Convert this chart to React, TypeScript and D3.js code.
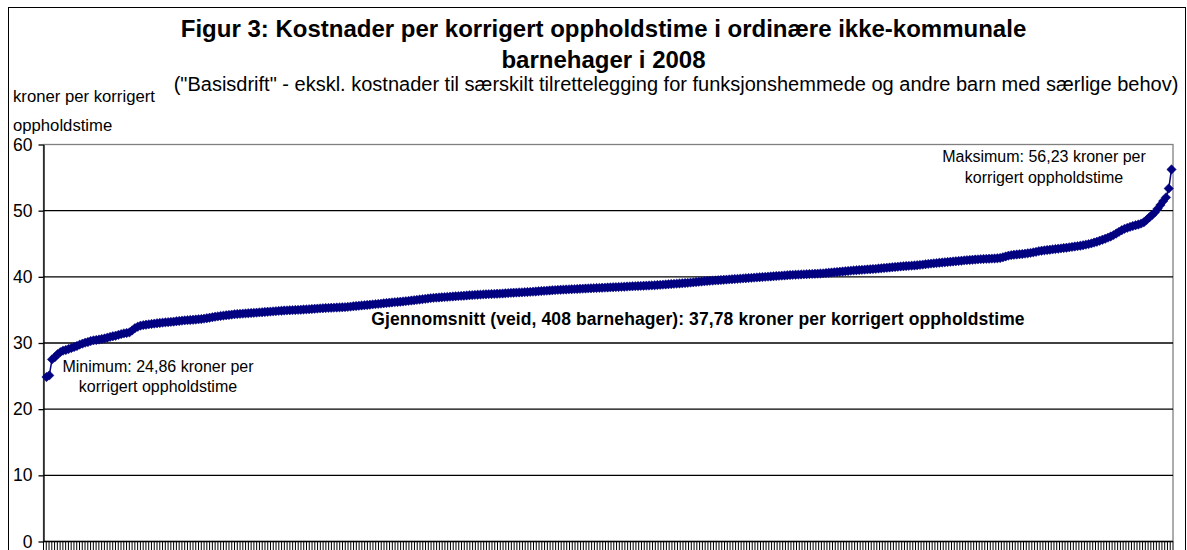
import React, { useRef, useEffect } from 'react';
import * as d3 from 'd3';

// ==================== DATA ====================
// Kostnad per korrigert oppholdstime, 408 barnehager sortert stigende
const costs = [
    24.86, 25.10, 27.52, 27.85, 28.30, 28.62, 28.85, 28.95, 29.10, 29.25,
    29.40, 29.55, 29.75, 29.90, 30.05, 30.15, 30.30, 30.40, 30.45, 30.52,
    30.60, 30.68, 30.80, 30.92, 31.02, 31.10, 31.22, 31.35, 31.45, 31.52,
    31.60, 31.90, 32.25, 32.45, 32.62, 32.70, 32.76, 32.82, 32.88, 32.93,
    32.98, 33.03, 33.08, 33.12, 33.15, 33.19, 33.23, 33.28, 33.33, 33.38,
    33.42, 33.45, 33.48, 33.51, 33.55, 33.58, 33.62, 33.68, 33.75, 33.82,
    33.90, 33.97, 34.03, 34.09, 34.14, 34.19, 34.24, 34.29, 34.34, 34.38,
    34.41, 34.44, 34.47, 34.50, 34.53, 34.56, 34.59, 34.62, 34.65, 34.69,
    34.72, 34.75, 34.78, 34.81, 34.85, 34.88, 34.91, 34.93, 34.95, 34.97,
    34.99, 35.01, 35.03, 35.06, 35.08, 35.11, 35.14, 35.17, 35.20, 35.23,
    35.26, 35.28, 35.30, 35.32, 35.34, 35.36, 35.38, 35.40, 35.42, 35.46,
    35.50, 35.55, 35.59, 35.63, 35.67, 35.71, 35.75, 35.79, 35.83, 35.87,
    35.91, 35.95, 36.00, 36.04, 36.09, 36.13, 36.17, 36.20, 36.24, 36.28,
    36.32, 36.37, 36.42, 36.47, 36.52, 36.57, 36.62, 36.67, 36.72, 36.78,
    36.82, 36.85, 36.88, 36.91, 36.94, 36.97, 37.00, 37.03, 37.06, 37.09,
    37.12, 37.15, 37.18, 37.21, 37.24, 37.27, 37.30, 37.32, 37.34, 37.36,
    37.38, 37.40, 37.42, 37.44, 37.46, 37.48, 37.51, 37.54, 37.57, 37.60,
    37.62, 37.64, 37.66, 37.68, 37.70, 37.73, 37.76, 37.79, 37.82, 37.85,
    37.88, 37.91, 37.94, 37.97, 38.00, 38.03, 38.05, 38.07, 38.09, 38.11,
    38.13, 38.15, 38.17, 38.19, 38.21, 38.23, 38.25, 38.27, 38.29, 38.31,
    38.33, 38.35, 38.37, 38.39, 38.41, 38.43, 38.45, 38.47, 38.49, 38.51,
    38.53, 38.55, 38.57, 38.59, 38.61, 38.63, 38.65, 38.67, 38.69, 38.71,
    38.73, 38.76, 38.79, 38.82, 38.85, 38.88, 38.91, 38.94, 38.97, 39.00,
    39.03, 39.06, 39.09, 39.13, 39.17, 39.21, 39.25, 39.29, 39.33, 39.37,
    39.40, 39.43, 39.46, 39.49, 39.52, 39.55, 39.58, 39.61, 39.64, 39.67,
    39.70, 39.73, 39.76, 39.79, 39.82, 39.85, 39.88, 39.91, 39.94, 39.97,
    40.00, 40.03, 40.06, 40.09, 40.12, 40.15, 40.18, 40.21, 40.24, 40.27,
    40.30, 40.32, 40.34, 40.36, 40.38, 40.40, 40.42, 40.44, 40.46, 40.48,
    40.50, 40.53, 40.57, 40.61, 40.65, 40.69, 40.73, 40.77, 40.81, 40.85,
    40.89, 40.93, 40.97, 41.00, 41.03, 41.06, 41.09, 41.12, 41.15, 41.18,
    41.21, 41.25, 41.29, 41.33, 41.37, 41.41, 41.45, 41.49, 41.53, 41.57,
    41.60, 41.63, 41.66, 41.69, 41.72, 41.76, 41.80, 41.85, 41.90, 41.95,
    42.00, 42.04, 42.08, 42.12, 42.16, 42.20, 42.24, 42.28, 42.32, 42.36,
    42.40, 42.44, 42.48, 42.52, 42.55, 42.58, 42.61, 42.64, 42.67, 42.70,
    42.72, 42.74, 42.76, 42.78, 42.80, 42.85, 42.95, 43.08, 43.20, 43.28,
    43.33, 43.37, 43.41, 43.45, 43.50, 43.56, 43.62, 43.70, 43.78, 43.88,
    43.95, 44.00, 44.05, 44.10, 44.15, 44.20, 44.25, 44.30, 44.35, 44.40,
    44.46, 44.52, 44.58, 44.64, 44.70, 44.78, 44.86, 44.95, 45.05, 45.18,
    45.30, 45.45, 45.60, 45.75, 45.92, 46.10, 46.30, 46.55, 46.80, 47.05,
    47.25, 47.40, 47.55, 47.68, 47.80, 47.90, 48.05, 48.25, 48.60, 49.00,
    49.35, 49.75, 50.30, 50.85, 51.45, 52.00, 53.35, 56.23
];

const yTicks = [0, 10, 20, 30, 40, 50, 60];

const titleLines = [
    'Figur 3: Kostnader per korrigert oppholdstime i ordinære ikke-kommunale',
    'barnehager i 2008'
];
const subtitle = '("Basisdrift" - ekskl. kostnader til særskilt tilrettelegging for funksjonshemmede og andre barn med særlige behov)';
const yLabelLines = ['kroner per korrigert', 'oppholdstime'];
const minLabel = ['Minimum: 24,86 kroner per', 'korrigert oppholdstime'];
const maxLabel = ['Maksimum: 56,23 kroner per', 'korrigert oppholdstime'];
const meanLabel = 'Gjennomsnitt (veid, 408 barnehager): 37,78 kroner per korrigert oppholdstime';

// ==================== CONFIG ====================
const W = 1187;
const H = 550;
const FONT = "Arial, 'Liberation Sans', sans-serif";
const NAVY = '#000080';
const PLOT = { left: 43.5, right: 1173, top: 144.5, bottom: 541.5 };

export default function App() {
    const svgRef = useRef<SVGSVGElement>(null);

    useEffect(() => {
        if (!svgRef.current) return;
        const svg = d3.select(svgRef.current);
        svg.selectAll('*').remove();

        // outer chart border
        svg.append('rect')
            .attr('x', 8.5).attr('y', 7.5)
            .attr('width', 1177).attr('height', 560)
            .attr('fill', '#fff').attr('stroke', '#000').attr('stroke-width', 1);

        const idx = d3.range(costs.length);
        const x = d3.scalePoint<number>().domain(idx).range([46.5, 1171.5]);
        const xb = d3.scaleBand<number>().domain(idx).range([PLOT.left, PLOT.right]);
        const y = d3.scaleLinear().domain([0, 60]).range([PLOT.bottom, PLOT.top]);

        // plot area border (grey)
        svg.append('rect')
            .attr('x', PLOT.left).attr('y', PLOT.top)
            .attr('width', PLOT.right - PLOT.left).attr('height', PLOT.bottom - PLOT.top)
            .attr('fill', 'none').attr('stroke', '#808080').attr('stroke-width', 1.3);

        // gridlines
        svg.append('g')
            .selectAll('line')
            .data(yTicks.filter(t => t > 0 && t < 60))
            .enter()
            .append('line')
            .attr('x1', PLOT.left).attr('x2', PLOT.right)
            .attr('y1', d => y(d)).attr('y2', d => y(d))
            .attr('stroke', '#000').attr('stroke-width', 1.3);

        // x category ticks
        const xTickPos = idx.map(i => xb(i) as number).concat([PLOT.right]);
        svg.append('g')
            .selectAll('line')
            .data(xTickPos)
            .enter()
            .append('line')
            .attr('x1', d => d).attr('x2', d => d)
            .attr('y1', PLOT.bottom).attr('y2', PLOT.bottom + 10)
            .attr('stroke', '#000').attr('stroke-width', 1);

        // x axis line
        svg.append('line')
            .attr('x1', PLOT.left).attr('x2', PLOT.right)
            .attr('y1', PLOT.bottom).attr('y2', PLOT.bottom)
            .attr('stroke', '#000').attr('stroke-width', 1.3);

        // y axis
        const yAxis = svg.append('g')
            .attr('transform', `translate(${PLOT.left},0)`)
            .call(d3.axisLeft(y).tickValues(yTicks).tickSize(5).tickSizeOuter(0).tickPadding(6).tickFormat(d3.format('d')));
        yAxis.select('.domain').attr('stroke', '#000').attr('stroke-width', 1.3);
        yAxis.selectAll('.tick line').attr('stroke', '#000').attr('stroke-width', 1.3);
        yAxis.selectAll('.tick text')
            .attr('font-family', FONT).attr('font-size', 17.5).attr('fill', '#000');

        // series line
        const line = d3.line<number>().x((d, i) => x(i) as number).y(d => y(d));
        svg.append('path')
            .datum(costs)
            .attr('d', line)
            .attr('fill', 'none')
            .attr('stroke', NAVY)
            .attr('stroke-width', 1.5);

        // diamond markers
        const diamond = d3.symbol().type(d3.symbolSquare).size(44);
        svg.append('g')
            .selectAll('path')
            .data(costs)
            .enter()
            .append('path')
            .attr('d', diamond)
            .attr('transform', (d, i) => `translate(${x(i)},${y(d)}) rotate(45)`)
            .attr('fill', NAVY)
            .attr('stroke', NAVY)
            .attr('stroke-width', 0.5);

        // titles
        svg.append('text')
            .attr('x', 603.5).attr('y', 37.3)
            .attr('text-anchor', 'middle')
            .attr('font-family', FONT).attr('font-size', 24).attr('font-weight', 'bold')
            .text(titleLines[0]);
        svg.append('text')
            .attr('x', 603.5).attr('y', 68)
            .attr('text-anchor', 'middle')
            .attr('font-family', FONT).attr('font-size', 24).attr('font-weight', 'bold')
            .text(titleLines[1]);
        svg.append('text')
            .attr('x', 676).attr('y', 90.7)
            .attr('text-anchor', 'middle')
            .attr('font-family', FONT).attr('font-size', 20)
            .text(subtitle);

        // y label
        yLabelLines.forEach((t, k) => {
            svg.append('text')
                .attr('x', 13).attr('y', 101.7 + k * 29.3)
                .attr('font-family', FONT).attr('font-size', 16.7)
                .text(t);
        });

        // annotations
        const note = (lines: string[], cx: number, y0: number, dy: number) => {
            lines.forEach((t, k) => {
                svg.append('text')
                    .attr('x', cx).attr('y', y0 + k * dy)
                    .attr('text-anchor', 'middle')
                    .attr('font-family', FONT).attr('font-size', 16)
                    .text(t);
            });
        };
        note(minLabel, 158, 371.7, 20.5);
        note(maxLabel, 1044, 161.7, 21.6);

        svg.append('text')
            .attr('x', 698).attr('y', 325)
            .attr('text-anchor', 'middle')
            .attr('font-family', FONT).attr('font-size', 17.5).attr('font-weight', 'bold')
            .attr('letter-spacing', 0.1)
            .text(meanLabel);
    }, []);

    return (
        <div style={{ position: 'absolute', left: 0, top: 0, width: W, height: H, overflow: 'hidden', background: '#fff' }}>
            <svg ref={svgRef} width={W} height={H} style={{ display: 'block' }} />
        </div>
    );
}
